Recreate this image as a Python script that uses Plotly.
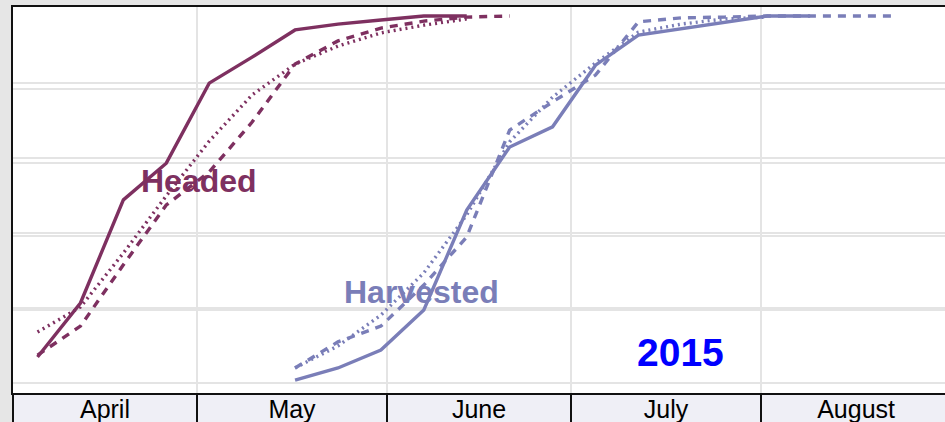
import plotly.graph_objects as go

# ---- data (percent of crop, weekly reports) ----
headed_2015_dates = ["2015-04-05", "2015-04-12", "2015-04-19", "2015-04-26", "2015-05-03",
                     "2015-05-10", "2015-05-17", "2015-05-24", "2015-05-31", "2015-06-07",
                     "2015-06-14"]
headed_2015 = [7.1, 21.8, 49.9, 59.9, 81.7, 88.8, 96.2, 97.8, 98.9, 100, 100]

headed_dash_dates = ["2015-04-05", "2015-04-12", "2015-04-19", "2015-04-26", "2015-05-03",
                     "2015-05-10", "2015-05-17", "2015-05-24", "2015-05-31", "2015-06-07",
                     "2015-06-14", "2015-06-21"]
headed_dash = [7.6, 15.5, 32.2, 48.5, 57.5, 71.1, 86.9, 93.2, 96.7, 98.6, 99.7, 100]

headed_dot_dates = ["2015-04-05", "2015-04-12", "2015-04-19", "2015-04-26", "2015-05-03",
                    "2015-05-10", "2015-05-17", "2015-05-24", "2015-05-31", "2015-06-07",
                    "2015-06-14"]
headed_dot = [13.9, 20.7, 35.4, 51.0, 65.9, 78.5, 86.9, 91.8, 95.4, 97.5, 99.2]

harv_2015_dates = ["2015-05-17", "2015-05-24", "2015-05-31", "2015-06-07", "2015-06-14",
                   "2015-06-21", "2015-06-28", "2015-07-05", "2015-07-12", "2015-07-19",
                   "2015-07-26", "2015-08-02", "2015-08-09"]
harv_2015 = [0.8, 4.1, 9.0, 19.9, 47.1, 64.3, 69.8, 86.6, 94.8, 96.5, 98.4, 100, 100]

harv_dash_dates = ["2015-05-17", "2015-05-24", "2015-05-31", "2015-06-07", "2015-06-14",
                   "2015-06-21", "2015-06-28", "2015-07-05", "2015-07-12", "2015-07-19",
                   "2015-07-26", "2015-08-02", "2015-08-09", "2015-08-16", "2015-08-23"]
harv_dash = [4.1, 11.2, 15.5, 26.7, 39.8, 68.9, 76.6, 83.9, 98.4, 99.5, 99.7, 100, 100, 100, 100]

harv_dot_dates = ["2015-05-17", "2015-05-24", "2015-05-31", "2015-06-07", "2015-06-14",
                  "2015-06-21", "2015-06-28", "2015-07-05", "2015-07-12", "2015-07-19",
                  "2015-07-26", "2015-08-02"]
harv_dot = [4.1, 10.1, 18.5, 30.0, 45.8, 65.7, 77.9, 87.2, 95.6, 97.8, 99.2, 99.7]

x_range = ["2015-04-01", "2015-08-31"]
grid_vals = [0, 20, 40, 60, 80]

HEAD = "#7e3060"
HARV = "#7a7eb8"
FONT = "Liberation Sans, Arial, sans-serif"

fig = go.Figure()

# second gridline set (slightly offset scale, as in the original)
fig.add_trace(go.Scatter(x=[], y=[], yaxis="y2", showlegend=False, hoverinfo="skip"))

def add_line(xs, ys, color, dash):
    fig.add_trace(go.Scatter(x=xs, y=ys, mode="lines", showlegend=False,
                             line=dict(color=color, width=3.4, dash=dash)))

add_line(headed_dot_dates, headed_dot, HEAD, "2px,4px")
add_line(headed_dash_dates, headed_dash, HEAD, "8px,7px")
add_line(headed_2015_dates, headed_2015, HEAD, "solid")
add_line(harv_dot_dates, harv_dot, HARV, "2px,4px")
add_line(harv_dash_dates, harv_dash, HARV, "8px,7px")
add_line(harv_2015_dates, harv_2015, HARV, "solid")

fig.add_annotation(x="2015-05-01 07:00", y=55.0, text="<b>Headed</b>", showarrow=False,
                   font=dict(family=FONT, size=32, color=HEAD))
fig.add_annotation(x="2015-06-06 14:00", y=24.8, text="<b>Harvested</b>", showarrow=False,
                   font=dict(family=FONT, size=32, color=HARV))
fig.add_annotation(x="2015-07-18 19:00", y=8.4, text="<b>2015</b>", showarrow=False,
                   font=dict(family=FONT, size=39, color="#0000ff"))

# lavender band behind month labels
fig.add_shape(type="rect", xref="paper", yref="paper", x0=0, x1=1, y0=-29 / 386, y1=0,
              fillcolor="#efeff6", line=dict(width=0), layer="below")

fig.update_layout(
    width=945, height=422,
    margin=dict(l=13, r=0, t=7, b=29, autoexpand=False),
    paper_bgcolor="#e6e6e6",
    plot_bgcolor="#ffffff",
    font=dict(family=FONT, color="#000000"),
    xaxis=dict(
        type="date", range=x_range, automargin=False,
        dtick="M1", tick0="2015-04-01",
        ticklabelmode="period", tickformat="%B",
        ticks="outside", ticklen=29, tickwidth=2, tickcolor="#111111",
        ticklabelstandoff=-36,
        showticklabels=True,
        tickfont=dict(family=FONT, size=25, color="#000000"),
        showgrid=True, gridcolor="#e4e4e4", gridwidth=2,
        showline=True, linecolor="#111111", linewidth=2, mirror=True,
        zeroline=False,
    ),
    yaxis=dict(
        range=[-2.72, 102.45], tickvals=grid_vals, showticklabels=False,
        showgrid=True, gridcolor="#e4e4e4", gridwidth=2, zeroline=False,
        showline=True, linecolor="#111111", linewidth=2, ticks="", automargin=False,
    ),
    yaxis2=dict(
        range=[-2.67, 100.27], tickvals=grid_vals, showticklabels=False,
        showgrid=True, gridcolor="#e4e4e4", gridwidth=2, zeroline=False,
        overlaying="y", showline=False, ticks="", automargin=False,
    ),
)

fig.write_html("out.html", config={"displayModeBar": False},
               post_script="document.body.style.margin='0';document.body.style.overflow='hidden';")
